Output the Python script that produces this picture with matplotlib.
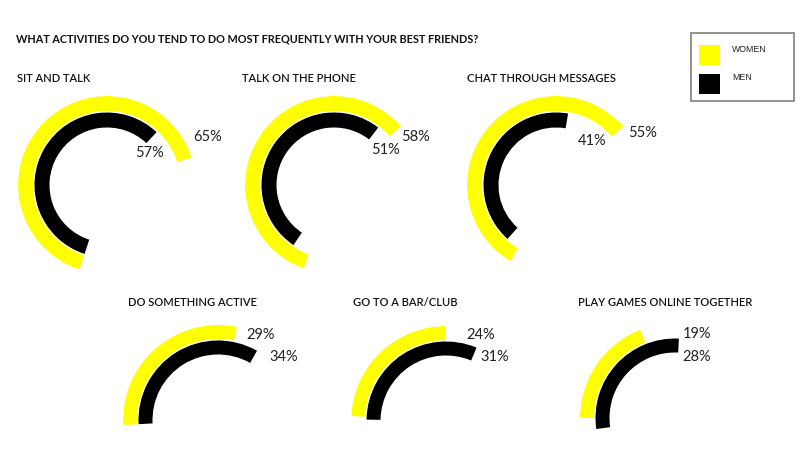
import numpy as np
import matplotlib
matplotlib.use("Agg")
import matplotlib.pyplot as plt
from matplotlib.patches import Rectangle

# ---- data ----
question = "WHAT ACTIVITIES DO YOU TEND TO DO MOST FREQUENTLY WITH YOUR BEST FRIENDS?"
activities = ["SIT AND TALK", "TALK ON THE PHONE", "CHAT THROUGH MESSAGES",
              "DO SOMETHING ACTIVE", "GO TO A BAR/CLUB", "PLAY GAMES ONLINE TOGETHER"]
women = [65, 58, 55, 29, 24, 19]
men = [57, 51, 41, 34, 31, 28]
series_names = ["WOMEN", "MEN"]

# ---- layout (pixels on an 800x450 canvas) ----
W, H = 800, 450
YELLOW = "#FFFF00"
BLACK = "#000000"
centers = [(107, 185), (334, 185), (556, 185), (218, 420), (446, 421), (675, 418)]
outer_r = [89, 89, 89, 95, 95, 95]
ring = [15, 15, 15, 14, 14, 14]
gap = 1.5
start_w = [198, 200, 211, 267, 273, 270]   # clockwise from 12 o'clock
start_m = [198, 214, 222, 267, 271, 262]
title_xy = [(17, 79), (242, 79), (467, 79), (128, 302), (353, 302), (578, 302)]
lab_w_xy = [(208, 137), (416, 137), (643, 133), (261, 335), (481, 335), (697, 334)]
lab_m_xy = [(150, 153), (385, 150), (592, 141), (284, 357), (495, 357), (697, 357)]


def fx(x):
    return x / W


def fy(y):
    return 1 - y / H


fig = plt.figure(figsize=(W / 100, H / 100), dpi=100)
fig.patch.set_facecolor("white")

fig.text(fx(16), fy(39), question, ha="left", va="center",
         fontsize=7.8, fontweight="bold", color="#111111", family="Lato")

for i in range(len(activities)):
    cx, cy = centers[i]
    R = outer_r[i]
    ax = fig.add_axes([fx(cx - R), fy(cy + R), 2 * R / W, 2 * R / H], projection="polar")
    ax.set_theta_zero_location("N")
    ax.set_theta_direction(-1)
    ax.set_ylim(0, R)
    ax.axis("off")

    # women ring (outer)
    ax.bar(np.deg2rad(start_w[i]), ring[i], width=np.deg2rad(women[i] * 3.6),
           bottom=R - ring[i], align="edge", color=YELLOW, linewidth=0)
    # men ring (inner)
    ax.bar(np.deg2rad(start_m[i]), ring[i], width=np.deg2rad(men[i] * 3.6),
           bottom=R - 2 * ring[i] - gap, align="edge", color=BLACK, linewidth=0)

    tx, ty = title_xy[i]
    fig.text(fx(tx), fy(ty), activities[i], ha="left", va="center",
             fontsize=8.0, fontweight="semibold", color="#111111", family="Lato")
    wx, wy = lab_w_xy[i]
    fig.text(fx(wx), fy(wy), f"{women[i]}%", ha="center", va="center",
             fontsize=10.5, color="#222222", family="Lato")
    mx, my = lab_m_xy[i]
    fig.text(fx(mx), fy(my), f"{men[i]}%", ha="center", va="center",
             fontsize=10.5, color="#222222", family="Lato")

# legend box
fig.patches.append(Rectangle((fx(691), fy(101)), 103 / W, 68 / H, transform=fig.transFigure,
                             fill=False, edgecolor="#7f7f7f", linewidth=1.2))
for col, ty in [(YELLOW, 45), (BLACK, 74)]:
    fig.patches.append(Rectangle((fx(699), fy(ty + 20)), 21 / W, 20 / H,
                                 transform=fig.transFigure, facecolor=col, edgecolor="none"))
fig.text(fx(732), fy(49), series_names[0], ha="left", va="center",
         fontsize=6.3, color="#222222", family="Liberation Sans")
fig.text(fx(732), fy(77), series_names[1], ha="left", va="center",
         fontsize=6.3, color="#222222", family="Liberation Sans")

fig.savefig("out.png", dpi=100, facecolor="white")
